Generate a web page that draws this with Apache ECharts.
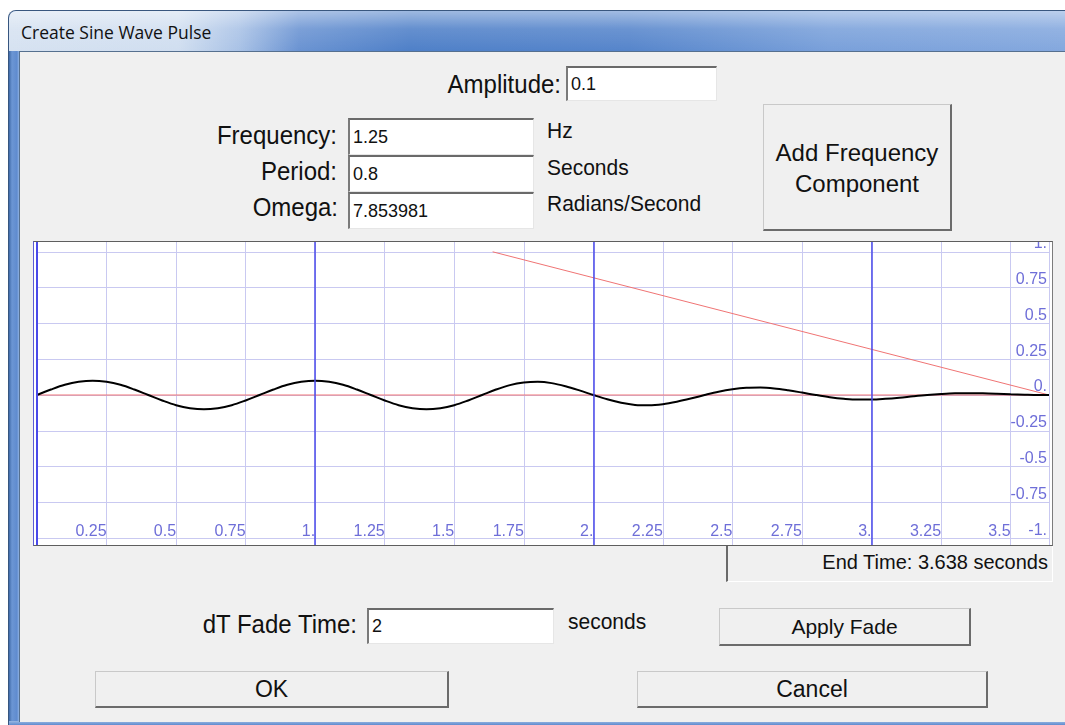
<!DOCTYPE html>
<html>
<head>
<meta charset="utf-8">
<script src="https://cdn.jsdelivr.net/npm/echarts@6/dist/echarts.min.js"></script>
<style>
  html, body { margin:0; padding:0; width:1065px; height:725px; overflow:hidden; background:#ffffff; }
  body { position:relative; font-family:"Liberation Sans", Arial, sans-serif; color:#111; }
  .abs { position:absolute; }
  .lbl { position:absolute; font-size:24px; height:30px; line-height:30px; white-space:nowrap; transform:scaleY(1.08); transform-origin:right center; }
  .unit { position:absolute; font-size:21px; height:30px; line-height:30px; white-space:nowrap; transform:scaleY(1.08); transform-origin:left center; }
  .inp { position:absolute; box-sizing:border-box; background:#fff;
         border-top:2px solid #6a6a6a; border-left:2px solid #7a7a7a;
         border-right:1px solid #e6e6e6; border-bottom:1px solid #e6e6e6;
         font-size:18px; padding-left:3px; white-space:nowrap; }
  .btn { position:absolute; box-sizing:border-box; background:#f0f0f0;
         border-top:1px solid #c9c9c9; border-left:1px solid #c9c9c9;
         border-right:2px solid #6b6b6b; border-bottom:2px solid #6b6b6b;
         text-align:center; white-space:nowrap; }
</style>
</head>
<body>
<!-- window frame -->
<div class="abs" style="left:8px;top:10px;width:1057px;height:715px;border-radius:8px 0 0 0;
  background:linear-gradient(to right,#3f6aa8 0px,#6c96d4 3px,#5f8bcf 8px,#8fb2e2 10px,#5f8bcf 11px);
  border-left:1px solid #36557f;border-top:1px solid #39577f;box-sizing:border-box;"></div>
<!-- title bar -->
<div class="abs" style="left:9px;top:11px;width:1056px;height:40px;border-radius:7px 0 0 0;
  background:linear-gradient(to bottom,rgba(255,255,255,0.45) 0%,rgba(255,255,255,0.12) 45%,rgba(255,255,255,0) 100%),
  linear-gradient(to right,#d6e2f1 0px,#d0def0 170px,#a9c2e6 230px,#6a93d2 290px,#4f80c8 400px,#5685cb 620px,#79a0da 820px,#84a8de 1056px);"></div>
<div class="abs" style="left:21px;top:19px;height:26px;line-height:26px;font-family:'Open Sans','Noto Sans',sans-serif;font-size:17.5px;color:#111;white-space:nowrap;">Create Sine Wave Pulse</div>
<!-- bottom frame -->
<div class="abs" style="left:9px;top:721px;width:1056px;height:4px;background:linear-gradient(to bottom,#9ab8e2,#5f8bcf);"></div>
<!-- content area -->
<div class="abs" style="left:19px;top:51px;width:1046px;height:671px;background:#f0f0f0;border-left:1px solid #56708f;border-top:1px solid #56708f;box-sizing:border-box;"></div>

<!-- fields -->
<div class="lbl" style="right:504px;top:69px;">Amplitude:</div>
<div class="inp" style="left:566px;top:66px;width:151px;height:35px;line-height:32px;">0.1</div>

<div class="lbl" style="right:728px;top:120px;">Frequency:</div>
<div class="inp" style="left:348px;top:118px;width:186px;height:37px;line-height:34px;">1.25</div>
<div class="unit" style="left:547px;top:115px;">Hz</div>

<div class="lbl" style="right:728px;top:156px;">Period:</div>
<div class="inp" style="left:348px;top:155px;width:186px;height:37px;line-height:34px;">0.8</div>
<div class="unit" style="left:547px;top:152px;">Seconds</div>

<div class="lbl" style="right:727px;top:192px;">Omega:</div>
<div class="inp" style="left:348px;top:192px;width:186px;height:37px;line-height:34px;">7.853981</div>
<div class="unit" style="left:547px;top:188px;">Radians/Second</div>

<div class="btn" style="left:763px;top:104px;width:189px;height:127px;font-size:24px;line-height:31px;padding-top:32px;">Add Frequency<br>Component</div>

<!-- chart panel -->
<div class="abs" style="left:33px;top:241px;width:1020px;height:305px;box-sizing:border-box;background:#fff;overflow:hidden;
  border-top:1px solid #5e5e5e;border-right:1px solid #7c7c7c;border-bottom:1px solid #5e5e5e;border-left:1px solid #5c5cd4;">
  <div id="chart" style="position:absolute;left:0;top:-26px;width:1018px;height:358px;"></div>
</div>

<div class="abs" style="left:726px;top:546px;width:327px;height:36px;box-sizing:border-box;background:#f0f0f0;
  border-left:2px solid #6a6a6a;border-right:1px solid #ffffff;border-bottom:1px solid #ffffff;
  font-size:20px;line-height:32px;text-align:right;padding-right:4px;white-space:nowrap;">End Time: 3.638 seconds</div>

<div class="lbl" style="right:708px;top:609px;">dT Fade Time:</div>
<div class="inp" style="left:367px;top:608px;width:187px;height:36px;line-height:33px;">2</div>
<div class="unit" style="left:568px;top:606px;">seconds</div>

<div class="btn" style="left:719px;top:608px;width:252px;height:38px;font-size:21px;line-height:36px;">Apply Fade</div>
<div class="btn" style="left:95px;top:671px;width:354px;height:37px;font-size:23px;line-height:35px;">OK</div>
<div class="btn" style="left:637px;top:671px;width:351px;height:37px;font-size:23px;line-height:35px;">Cancel</div>

<script>
// ---- data ----
const endTime = 3.638;                 // seconds (x-axis end)
const timeSec = [
  0, 0.05, 0.1, 0.15, 0.2, 0.25, 0.3, 0.35, 0.4, 0.45, 0.5, 0.55, 0.6, 0.65, 0.7, 0.75,
  0.8, 0.85, 0.9, 0.95, 1.0, 1.05, 1.1, 1.15, 1.2, 1.25, 1.3, 1.35, 1.4, 1.45, 1.5, 1.55,
  1.6, 1.65, 1.7, 1.75, 1.8, 1.85, 1.9, 1.95, 2.0, 2.05, 2.1, 2.15, 2.2, 2.25, 2.3, 2.35,
  2.4, 2.45, 2.5, 2.55, 2.6, 2.65, 2.7, 2.75, 2.8, 2.85, 2.9, 2.95, 3.0, 3.05, 3.1, 3.15,
  3.2, 3.25, 3.3, 3.35, 3.4, 3.45, 3.5, 3.55, 3.6, 3.638
];
const waveAmp = [
  0, 0.038, 0.071, 0.092, 0.1, 0.092, 0.071, 0.038, 0, -0.038, -0.071, -0.092, -0.1, -0.092, -0.071, -0.038,
  0, 0.038, 0.071, 0.092, 0.1, 0.092, 0.071, 0.038, 0, -0.038, -0.071, -0.092, -0.1, -0.092, -0.071, -0.038,
  0, 0.038, 0.069, 0.087, 0.092, 0.083, 0.061, 0.032, 0, -0.030, -0.054, -0.069, -0.072, -0.064, -0.047, -0.025,
  0, 0.023, 0.040, 0.050, 0.052, 0.046, 0.033, 0.017, 0, -0.015, -0.026, -0.032, -0.032, -0.027, -0.019, -0.009,
  0, 0.007, 0.012, 0.013, 0.012, 0.009, 0.005, 0.002, 0, 0
];
const fadeTime = [1.638, 3.638];
const fadeLevel = [1, 0];
const baseTime = [0, 3.638];
const baseLevel = [0, 0];
const majorTimes = [0, 1, 2, 3];

const xTicks = [0.25, 0.5, 0.75, 1, 1.25, 1.5, 1.75, 2, 2.25, 2.5, 2.75, 3, 3.25, 3.5];
const xTickLabels = ['0.25','0.5','0.75','1.','1.25','1.5','1.75','2.','2.25','2.5','2.75','3.','3.25','3.5'];
const yTicks = [-1, -0.75, -0.5, -0.25, 0, 0.25, 0.5, 0.75, 1];
const yTickLabels = ['-1.','-0.75','-0.5','-0.25','0.','0.25','0.5','0.75','1.'];

function zip(xs, ys) { return xs.map((x, i) => [x, ys[i]]); }
function lookup(ticks, labels) {
  return function (v) {
    const i = ticks.findIndex(t => Math.abs(t - v) < 1e-6);
    return i < 0 ? '' : labels[i];
  };
}

const chart = echarts.init(document.getElementById('chart'), null, { renderer: 'canvas' });
const light = '#c9c9f1';
const dark = '#4a4aea';
const labelColor = '#6e6ed8';

chart.setOption({
  animation: false,
  backgroundColor: '#ffffff',
  grid: { left: 0, right: 0, top: 0, bottom: 0, containLabel: false },
  xAxis: {
    type: 'value', min: 0, max: endTime, interval: 0.25, position: 'bottom',
    axisLine: { show: false }, axisTick: { show: false },
    axisLabel: {
      inside: true, margin: 34, align: 'right', verticalAlign: 'bottom',
      fontSize: 16, color: labelColor, fontFamily: 'Liberation Sans, Arial, sans-serif',
      formatter: lookup(xTicks, xTickLabels)
    },
    splitLine: { show: true, lineStyle: { color: light, width: 1 } }
  },
  yAxis: {
    type: 'value', min: -1.25, max: 1.25, interval: 0.25, position: 'right',
    axisLine: { show: false }, axisTick: { show: false },
    axisLabel: {
      inside: true, margin: 2, align: 'right', verticalAlign: 'bottom',
      fontSize: 16, color: labelColor, fontFamily: 'Liberation Sans, Arial, sans-serif',
      formatter: lookup(yTicks, yTickLabels)
    },
    splitLine: { show: true, lineStyle: { color: light, width: 1 } }
  },
  series: [
    { type: 'line', data: zip(baseTime, baseLevel), symbol: 'none',
      lineStyle: { color: '#f07474', width: 1 }, z: 2,
      markLine: {
        silent: true, symbol: ['none', 'none'], label: { show: false },
        lineStyle: { color: dark, width: 1.5, type: 'solid' },
        data: majorTimes.map(t => ({ xAxis: t, lineStyle: { width: t === 0 ? 2 : 1.5 } }))
      } },
    { type: 'line', data: zip(fadeTime, fadeLevel), symbol: 'none',
      lineStyle: { color: '#f07474', width: 1 }, z: 2 },
    { type: 'line', data: zip(timeSec, waveAmp), symbol: 'none', smooth: 0.35,
      lineStyle: { color: '#000000', width: 2 }, z: 3 }
  ]
});
</script>
</body>
</html>
